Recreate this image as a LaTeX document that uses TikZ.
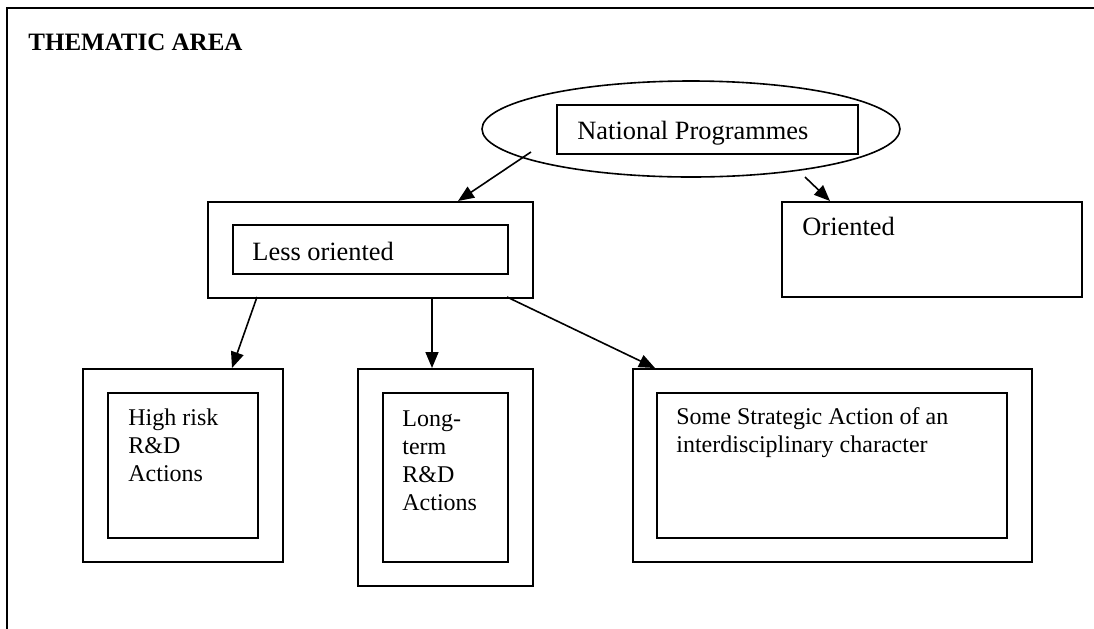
\documentclass[tikz,border=0pt]{standalone}
\usepackage{fontspec}
\setmainfont{Liberation Serif}
\usetikzlibrary{arrows.meta,shapes.geometric}
\begin{document}
\begin{tikzpicture}[x=0.5pt,y=-0.5pt,
  box/.style={draw,line width=0.8pt,inner sep=0pt,anchor=north west},
  frameline/.style={line width=1pt},
  arr/.style={line width=0.8pt,-{Triangle[length=8pt,width=6.5pt]}},
  lbl/.style={inner sep=0pt,anchor=base west},
  bigtxt/.style={font=\fontsize{13.2}{15}\selectfont},
  smalltxt/.style={font=\fontsize{12}{14.1}\selectfont}]
\useasboundingbox (0,0) rectangle (1094,628);
% outer frame
\draw[frameline] (7,640) -- (7,8) -- (1100,8);
\node[lbl,font=\fontsize{12.5}{15}\selectfont\bfseries] (title) at (28,50) {THEMATIC AREA};
% national programmes
\node[draw,ellipse,line width=0.8pt,inner sep=0pt,minimum width=209pt,minimum height=48pt] (npell) at (691,129) {};
\node[box,minimum width=150.5pt,minimum height=24.5pt] (nprect) at (556,104) {};
\node[lbl,bigtxt] (nptext) at (577,139) {National Programmes};
% less oriented
\node[box,minimum width=162.5pt,minimum height=48pt] (lessout) at (207,201) {};
\node[box,minimum width=137.5pt,minimum height=24.5pt] (lessin) at (232,224) {};
\node[lbl,bigtxt] (lesstext) at (252,260) {Less oriented};
% oriented
\node[box,minimum width=150pt,minimum height=47.5pt] (orient) at (781,201) {};
\node[lbl,bigtxt] (orienttext) at (802,235) {Oriented};
% bottom boxes
\node[box,minimum width=100pt,minimum height=96.5pt] (b1out) at (82,368) {};
\node[box,minimum width=75pt,minimum height=72.5pt] (b1in) at (107,392) {};
\node[lbl,smalltxt] (b1text) at (128,425) {\begin{tabular}[t]{@{}l@{}}High risk\\R\&D\\Actions\end{tabular}};
\node[box,minimum width=87.5pt,minimum height=108.5pt] (b2out) at (357,368) {};
\node[box,minimum width=62.5pt,minimum height=84.5pt] (b2in) at (382,392) {};
\node[lbl,smalltxt] (b2text) at (402,426) {\begin{tabular}[t]{@{}l@{}}Long-\\term\\R\&D\\Actions\end{tabular}};
\node[box,minimum width=199.5pt,minimum height=96.5pt] (b3out) at (632,368) {};
\node[box,minimum width=175pt,minimum height=72.5pt] (b3in) at (656,392) {};
\node[lbl,smalltxt] (b3text) at (676,424) {\begin{tabular}[t]{@{}l@{}}Some Strategic Action of an\\interdisciplinary character\end{tabular}};
% connector end points
\coordinate (a1s) at (531,152);
\coordinate (a1e) at (458,201);
\coordinate (a2s) at (805,177);
\coordinate (a2e) at (830,201);
\coordinate (a3s) at (257,297);
\coordinate (a3e) at (232,368);
\coordinate (a4s) at (432,297);
\coordinate (a4e) at (432,368);
\coordinate (a5s) at (507,297);
\coordinate (a5e) at (655,368);
\draw[arr] (a1s) -- (a1e);
\draw[arr] (a2s) -- (a2e);
\draw[arr] (a3s) -- (a3e);
\draw[arr] (a4s) -- (a4e);
\draw[arr] (a5s) -- (a5e);
\end{tikzpicture}
\end{document}
